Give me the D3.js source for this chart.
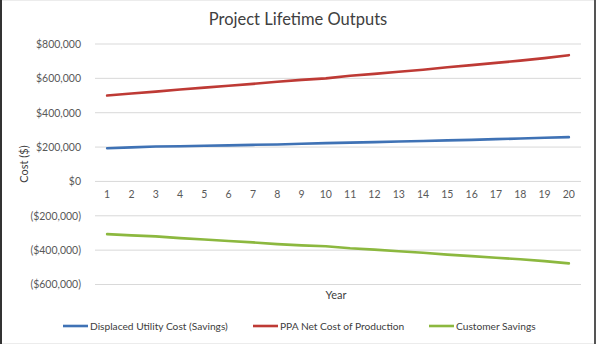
<!DOCTYPE html>
<html>
<head>
<meta charset="utf-8">
<script src="https://cdn.jsdelivr.net/npm/d3@7"></script>
<style>
  body { margin: 0; background: #fff; }
  svg { display: block; font-family: Lato, "Open Sans", sans-serif; }
</style>
</head>
<body>
<script>
// Stoerrelse paa SVG
const w = 596;
const h = 344;

// Data
const years = [1, 2, 3, 4, 5, 6, 7, 8, 9, 10, 11, 12, 13, 14, 15, 16, 17, 18, 19, 20];
const displaced = [193000, 198000, 203000, 205000, 208000, 210000, 213000, 215000, 219000, 223000,
                   226000, 229000, 232000, 235000, 239000, 242000, 246000, 250000, 254000, 258000];
const ppaCost = [500000, 512000, 523000, 535000, 546000, 557000, 568000, 580000, 591000, 600000,
                 615000, 626000, 638000, 650000, 665000, 677000, 690000, 703000, 718000, 735000];
const savings = [-307000, -314000, -320000, -330000, -338000, -347000, -355000, -365000, -372000, -377000,
                 -389000, -397000, -406000, -415000, -426000, -435000, -444000, -453000, -464000, -477000];
const yTicks = [-600000, -400000, -200000, 0, 200000, 400000, 600000, 800000];

const seriesNames = ["Displaced Utility Cost (Savings)", "PPA Net Cost of Production", "Customer Savings"];
const seriesColors = ["#3f72b5", "#be3a35", "#8cb83f"];
const seriesData = [displaced, ppaCost, savings];

const svg = d3.select("body").append("svg").attr("width", w).attr("height", h);

// Ramme
svg.append("rect").attr("x", 0).attr("y", 0).attr("width", w).attr("height", h)
  .attr("fill", "#fff").attr("stroke", "#d9d9d9");
svg.append("line").attr("x1", 1).attr("x2", 1).attr("y1", 0).attr("y2", h)
  .attr("stroke", "#333").attr("stroke-width", 2);
svg.append("line").attr("x1", 595).attr("x2", 595).attr("y1", 0).attr("y2", h)
  .attr("stroke", "#555").attr("stroke-width", 2);

// Skalaer
const xScale = d3.scaleBand().domain(years).range([95, 581]);
const yScale = d3.scaleLinear().domain([-600000, 800000]).range([284.5, 44]);

function fmt(v) {
  const s = "$" + d3.format(",")(Math.abs(v));
  return v < 0 ? "(" + s + ")" : s;
}

// Gitterlinjer
svg.append("g")
  .selectAll("line")
  .data(yTicks)
  .enter()
  .append("line")
  .attr("x1", 95).attr("x2", 581)
  .attr("y1", d => yScale(d)).attr("y2", d => yScale(d))
  .attr("stroke", "#d9d9d9").attr("stroke-width", 1);

// Y-akse
const yAxis = d3.axisLeft(yScale).tickValues(yTicks).tickFormat(fmt).tickSize(0).tickPadding(14);
svg.append("g").attr("transform", "translate(95,0)").call(yAxis)
  .call(g => g.select(".domain").remove())
  .selectAll("text")
  .attr("fill", "#595959").style("font-size", "10.5px").style("font-family", "Lato, sans-serif");

// X-akse (tal ved 0-linjen)
const xAxis = d3.axisBottom(xScale).tickSize(0).tickPadding(9);
svg.append("g").attr("transform", "translate(0," + yScale(0) + ")").call(xAxis)
  .call(g => g.select(".domain").remove())
  .selectAll("text")
  .attr("fill", "#595959").style("font-size", "10.5px").style("font-family", "Lato, sans-serif");

// Linjer
const line = d3.line()
  .x((d, i) => xScale(years[i]) + xScale.bandwidth() / 2)
  .y(d => yScale(d));

seriesData.forEach((data, k) => {
  svg.append("path")
    .datum(data)
    .attr("d", line)
    .attr("fill", "none")
    .attr("stroke", seriesColors[k])
    .attr("stroke-width", 2.6)
    .attr("stroke-linejoin", "round")
    .attr("stroke-linecap", "round");
});

// Titel
svg.append("text")
  .attr("x", 298).attr("y", 25)
  .attr("text-anchor", "middle")
  .attr("fill", "#404040")
  .style("font-size", "16.5px")
  .text("Project Lifetime Outputs");

// Aksetitler
svg.append("text")
  .attr("transform", "translate(28,164) rotate(-90)")
  .attr("text-anchor", "middle")
  .attr("fill", "#404040")
  .style("font-size", "11px")
  .text("Cost ($)");

svg.append("text")
  .attr("x", 336).attr("y", 299)
  .attr("text-anchor", "middle")
  .attr("fill", "#404040")
  .style("font-size", "11px")
  .text("Year");

// Legende
const legendX = [63, 253, 429];
seriesNames.forEach((name, k) => {
  const g = svg.append("g").attr("transform", "translate(" + legendX[k] + ",326)");
  g.append("line").attr("x1", 0).attr("x2", 25).attr("y1", 0).attr("y2", 0)
    .attr("stroke", seriesColors[k]).attr("stroke-width", 2.6);
  g.append("text").attr("x", 27).attr("y", 4)
    .attr("fill", "#404040").style("font-size", "10.2px")
    .text(name);
});
</script>
</body>
</html>
